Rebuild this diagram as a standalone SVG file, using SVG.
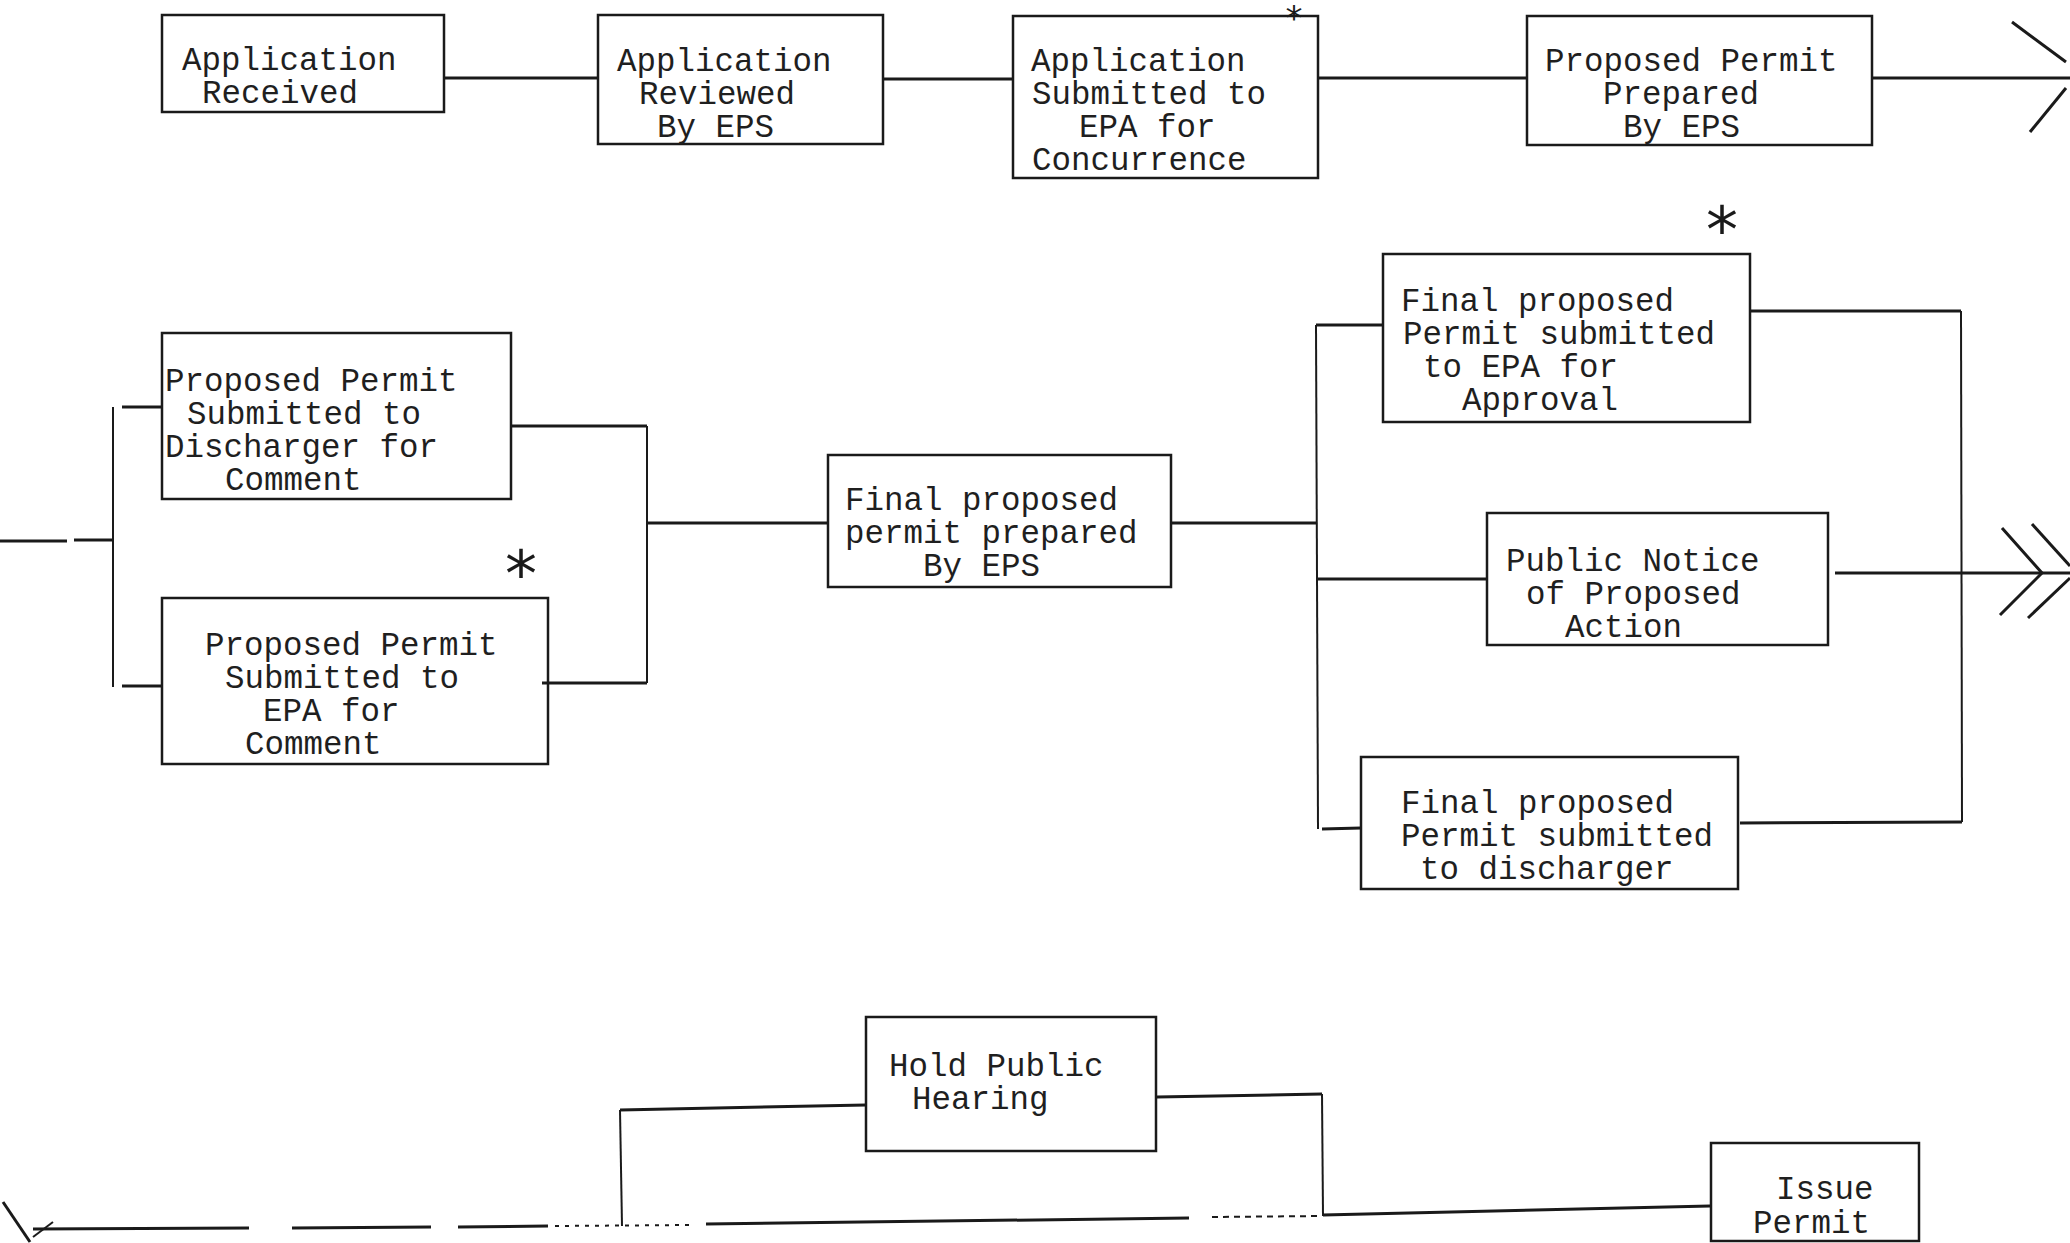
<svg xmlns="http://www.w3.org/2000/svg" width="2070" height="1243" viewBox="0 0 2070 1243">
<style>
.box{fill:none;stroke:#1a1a1a;stroke-width:2.5}
.lbl{font-family:"Liberation Mono","DejaVu Sans Mono",monospace;font-size:32.5px;fill:#1f1f1f}
.wire{fill:none;stroke:#1a1a1a;stroke-width:3}
.thin{fill:none;stroke:#1a1a1a;stroke-width:2}
.star{font-family:"DejaVu Sans",sans-serif;font-size:64px;fill:#1a1a1a;text-anchor:middle}
</style>
<rect width="2070" height="1243" fill="#ffffff"/>

<g id="connectors">
  <!-- row 1 -->
  <line class="wire" x1="444" y1="78" x2="598" y2="78"/>
  <line class="wire" x1="883" y1="79" x2="1013" y2="79"/>
  <line class="wire" x1="1318" y1="78" x2="1527" y2="78"/>
  <line class="wire" x1="1872" y1="78" x2="2070" y2="78"/>
  <line class="wire" stroke-width="5" x1="2012" y1="22" x2="2066" y2="62"/>
  <line class="wire" stroke-width="5" x1="2066" y1="88" x2="2030" y2="132"/>
  <!-- row 2 left fork -->
  <line class="wire" x1="0" y1="541" x2="67" y2="541"/>
  <line class="wire" x1="74" y1="540" x2="113" y2="540"/>
  <line class="thin" x1="113" y1="407" x2="113" y2="687"/>
  <line class="wire" x1="122" y1="407" x2="162" y2="407"/>
  <line class="wire" x1="122" y1="686" x2="162" y2="686"/>
  <!-- merge to C -->
  <line class="wire" x1="511" y1="426" x2="647" y2="426"/>
  <line class="wire" x1="542" y1="683" x2="647" y2="683"/>
  <line class="thin" x1="647" y1="426" x2="647" y2="683"/>
  <line class="wire" x1="647" y1="523" x2="828" y2="523"/>
  <line class="wire" x1="1171" y1="523" x2="1316" y2="523"/>
  <!-- right fork -->
  <line class="thin" x1="1316" y1="325" x2="1318" y2="829"/>
  <line class="wire" x1="1316" y1="325" x2="1383" y2="325"/>
  <line class="wire" x1="1317" y1="579" x2="1487" y2="579"/>
  <line class="wire" x1="1322" y1="829" x2="1361" y2="828"/>
  <!-- merge right -->
  <line class="wire" x1="1750" y1="311" x2="1961" y2="311"/>
  <line class="thin" x1="1961" y1="311" x2="1962" y2="822"/>
  <line class="wire" x1="1740" y1="823" x2="1962" y2="822"/>
  <line class="wire" x1="1835" y1="573" x2="2070" y2="573"/>
  <polyline class="wire" stroke-width="5" points="2002,528 2042,573 2000,615"/>
  <polyline class="wire" stroke-width="5" points="2032,524 2070,566"/>
  <line class="wire" stroke-width="5" x1="2070" y1="578" x2="2028" y2="618"/>
  <!-- row 3 -->
  <line class="wire" stroke-width="3.5" x1="3" y1="1202" x2="30" y2="1242"/>
  <line class="thin" x1="33" y1="1237" x2="53" y2="1222"/>
  <line class="wire" x1="33" y1="1229" x2="249" y2="1228"/>
  <line class="wire" x1="292" y1="1228" x2="431" y2="1227"/>
  <line class="wire" x1="458" y1="1227" x2="548" y2="1226"/>
  <line class="thin" stroke-dasharray="4 6" x1="555" y1="1226" x2="690" y2="1225"/>
  <line class="wire" x1="706" y1="1224" x2="1189" y2="1218"/>
  <line class="thin" stroke-dasharray="6 5" x1="1212" y1="1217" x2="1322" y2="1216"/>
  <line class="thin" x1="620" y1="1110" x2="622" y2="1226"/>
  <line class="wire" x1="620" y1="1110" x2="866" y2="1105"/>
  <line class="wire" x1="1157" y1="1097" x2="1322" y2="1094"/>
  <line class="thin" x1="1322" y1="1094" x2="1323" y2="1216"/>
  <line class="wire" x1="1323" y1="1215" x2="1710" y2="1206"/>
</g>

<g id="n1">
  <rect class="box" x="162" y="15" width="282" height="97"/>
  <text class="lbl" x="182" y="70">Application</text>
  <text class="lbl" x="202" y="103">Received</text>
</g>
<g id="n2">
  <rect class="box" x="598" y="15" width="285" height="129"/>
  <text class="lbl" x="617" y="71">Application</text>
  <text class="lbl" x="639" y="104">Reviewed</text>
  <text class="lbl" x="657" y="137">By EPS</text>
</g>
<g id="n3">
  <rect class="box" x="1013" y="16" width="305" height="162"/>
  <text class="lbl" x="1031" y="71">Application</text>
  <text class="lbl" x="1032" y="104">Submitted to</text>
  <text class="lbl" x="1079" y="137">EPA for</text>
  <text class="lbl" x="1032" y="170">Concurrence</text>
  <text class="star" x="1294" y="30" style="font-size:34px">*</text>
</g>
<g id="n4">
  <rect class="box" x="1527" y="16" width="345" height="129"/>
  <text class="lbl" x="1545" y="71">Proposed Permit</text>
  <text class="lbl" x="1603" y="104">Prepared</text>
  <text class="lbl" x="1623" y="137">By EPS</text>
</g>
<g id="n5">
  <rect class="box" x="162" y="333" width="349" height="166"/>
  <text class="lbl" x="165" y="391">Proposed Permit</text>
  <text class="lbl" x="187" y="424">Submitted to</text>
  <text class="lbl" x="165" y="457">Discharger for</text>
  <text class="lbl" x="225" y="490">Comment</text>
</g>
<g id="n6">
  <rect class="box" x="162" y="598" width="386" height="166"/>
  <text class="lbl" x="205" y="655">Proposed Permit</text>
  <text class="lbl" x="225" y="688">Submitted to</text>
  <text class="lbl" x="263" y="721">EPA for</text>
  <text class="lbl" x="245" y="754">Comment</text>
  <text class="star" x="521" y="596">*</text>
</g>
<g id="n7">
  <rect class="box" x="828" y="455" width="343" height="132"/>
  <text class="lbl" x="845" y="510">Final proposed</text>
  <text class="lbl" x="845" y="543">permit prepared</text>
  <text class="lbl" x="923" y="576">By EPS</text>
</g>
<g id="n8">
  <rect class="box" x="1383" y="254" width="367" height="168"/>
  <text class="lbl" x="1401" y="311">Final proposed</text>
  <text class="lbl" x="1403" y="344">Permit submitted</text>
  <text class="lbl" x="1423" y="377">to EPA for</text>
  <text class="lbl" x="1462" y="410">Approval</text>
  <text class="star" x="1722" y="252">*</text>
</g>
<g id="n9">
  <rect class="box" x="1487" y="513" width="341" height="132"/>
  <text class="lbl" x="1506" y="571">Public Notice</text>
  <text class="lbl" x="1526" y="604">of Proposed</text>
  <text class="lbl" x="1565" y="637">Action</text>
</g>
<g id="n10">
  <rect class="box" x="1361" y="757" width="377" height="132"/>
  <text class="lbl" x="1401" y="813">Final proposed</text>
  <text class="lbl" x="1401" y="846">Permit submitted</text>
  <text class="lbl" x="1420" y="879">to discharger</text>
</g>
<g id="n11">
  <rect class="box" x="866" y="1017" width="290" height="134"/>
  <text class="lbl" x="889" y="1076">Hold Public</text>
  <text class="lbl" x="912" y="1109">Hearing</text>
</g>
<g id="n12">
  <rect class="box" x="1711" y="1143" width="208" height="98"/>
  <text class="lbl" x="1776" y="1199">Issue</text>
  <text class="lbl" x="1753" y="1233">Permit</text>
</g>
</svg>
